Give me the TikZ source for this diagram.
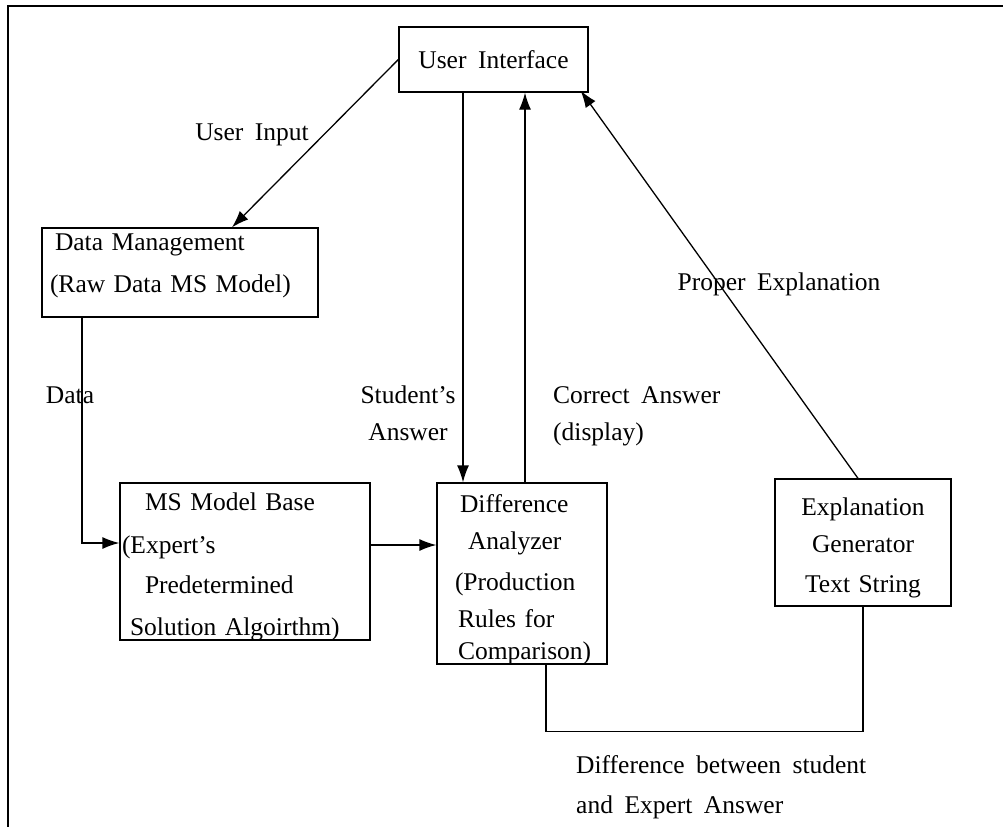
\documentclass[tikz,border=0pt]{standalone}
\usepackage{fontspec}
\setmainfont{Liberation Serif}[WordSpace=1.8]
\usetikzlibrary{arrows.meta,calc}
\tikzset{
  boxnode/.style={draw, line width=1.3pt, inner sep=0pt},
  lbl/.style={inner sep=0pt, font=\fontsize{25.5}{41}\selectfont},
  conn/.style={line width=1.3pt},
  arr/.style={line width=1.3pt, -{Latex[length=17pt,width=12pt]}}
}
\begin{document}
\begin{tikzpicture}[x=1pt,y=-1pt]
\useasboundingbox (0,0) rectangle (1003,827);
% outer frame (top and left only)
\draw[line width=1.5pt] (1003,6) -- (8,6) -- (8,827);

% boxes
\node[boxnode, minimum width=189pt, minimum height=65pt] (ui) at (493.5,59.5) {};
\node[boxnode, minimum width=276pt, minimum height=89pt] (dm) at (180,272.5) {};
\node[boxnode, minimum width=250pt, minimum height=157pt] (ms) at (245,561.5) {};
\node[boxnode, minimum width=170pt, minimum height=181pt] (da) at (522,573.5) {};
\node[boxnode, minimum width=176pt, minimum height=127pt] (eg) at (863,542.5) {};

% box texts
\node[lbl] (uit) at (493.5,60) {User Interface};
\node[lbl, text width=276pt, align=left] (dmt) at (180,266)
  {\hspace*{13pt}Data Management\\[1pt]\hspace*{8pt}(Raw Data MS Model)};
\node[lbl, text width=250pt, align=left] (mst) at (245,566.5)
  {\hspace*{25pt}MS Model Base\\[2pt]\hspace*{2pt}(Expert's\\[-1pt]\hspace*{25pt}Predetermined\\[1pt]\hspace*{10pt}Solution Algoirthm)};
\node[lbl, text width=170pt, align=left] (dat) at (522,580)
  {\hspace*{23pt}Difference\\[-4pt]\hspace*{31pt}Analyzer\\\hspace*{18pt}(Production\\[-4pt]\hspace*{21pt}Rules for\\[-9pt]\hspace*{21pt}Comparison)};
\node[lbl, text width=176pt, align=center] (egt) at (863,548)
  {Explanation\\[-4pt]Generator\\[-1pt]Text String};

% connectors
\draw[arr] (ui.west) -- ([xshift=52pt]dm.north);
\draw[arr] ([xshift=-98pt]dm.south) |- ([yshift=18.5pt]ms.west);
\draw[arr] ([yshift=16.5pt]ms.east) -- ([yshift=16.5pt]ms.east -| da.west);
\draw[arr] ([xshift=-30.5pt]ui.south) -- ([xshift=-30.5pt]ui.south |- da.north);
\draw[arr] ([xshift=3pt]da.north) -- ([xshift=3pt]da.north |- ui.south);
\draw[arr] ([xshift=-5pt]eg.north) -- ([xshift=-8pt,yshift=2pt]ui.south east);
\draw[conn] ([xshift=24pt]da.south) -- ++(0,67) -| (eg.south);

% labels
\node[lbl] (lui) at (252,135) {User Input};
\node[lbl] (ldata) at (70,395) {Data};
\node[lbl, align=center] (lstu) at (408,413) {Student's\\[-4pt]Answer};
\node[lbl, align=left, anchor=west] (lcor) at (553,416) {Correct Answer\\[-4pt](display)};
\node[lbl] (lpro) at (779,284) {Proper Explanation};
\node[lbl, align=left, anchor=west] (ldiff) at (576,787) {Difference between student\\[-1pt]and Expert Answer};
\end{tikzpicture}
\end{document}
